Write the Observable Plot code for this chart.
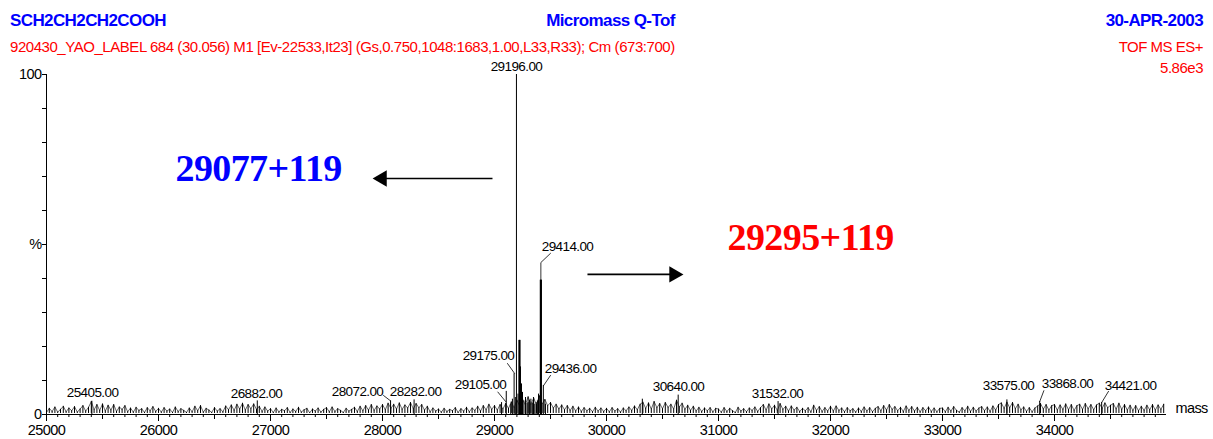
<!DOCTYPE html>
<html>
<head>
<meta charset="utf-8">
<script src="https://cdn.jsdelivr.net/npm/d3@7"></script>
<script src="https://cdn.jsdelivr.net/npm/@observablehq/plot@0.6"></script>
<style>
html, body { margin: 0; padding: 0; background: #fff; }
#wrap { position: relative; width: 1213px; height: 439px; overflow: hidden; font-family: "Liberation Sans", Arial, sans-serif; }
#chart { position: absolute; left: 0; top: 0; }
#leftblock { position: absolute; left: 10px; top: 12px; display: inline-block; white-space: nowrap; }
#line1 { display: flex; justify-content: space-between; font-weight: bold; font-size: 17px; line-height: 17px; letter-spacing: -0.6px; color: #0000ff; }
#line2 { margin-top: 9.5px; font-size: 15px; line-height: 15px; letter-spacing: -0.45px; color: #ff0000; }
#rightblock { position: absolute; right: 10px; top: 12px; text-align: right; white-space: nowrap; }
#r1 { font-weight: bold; font-size: 17px; line-height: 17px; letter-spacing: -0.6px; color: #0000ff; }
#r2 { margin-top: 9.5px; font-size: 15px; line-height: 15px; letter-spacing: -0.5px; color: #ff0000; }
#r3 { margin-top: 6px; font-size: 15px; line-height: 15px; letter-spacing: -0.5px; color: #ff0000; }
</style>
</head>
<body>
<div id="wrap">
  <div id="chart"></div>
  <div id="leftblock">
    <div id="line1"><span>SCH2CH2CH2COOH</span><span>Micromass Q-Tof</span></div>
    <div id="line2">920430_YAO_LABEL 684 (30.056) M1 [Ev-22533,It23] (Gs,0.750,1048:1683,1.00,L33,R33); Cm (673:700)</div>
  </div>
  <div id="rightblock">
    <div id="r1">30-APR-2003</div>
    <div id="r2">TOF MS ES+</div>
    <div id="r3">5.86e3</div>
  </div>
</div>
<script>
// ---- Baseline noise profile (% intensity), one array per 1000-Da segment, 25 Da apart ----
const segmentStarts = [25000, 26000, 27000, 28000, 29000, 30000, 31000, 32000, 33000, 34000];
const noiseStep = 25;
const n25 = [0.6,1.8,0.9,2.2,0.7,1.5,2.4,0.8,1.9,1.1,
             2.3,0.7,1.6,2.6,1.0,2.1,3.8,1.4,2.9,1.2,
             3.1,1.0,2.7,1.3,2.9,0.9,2.2,1.5,2.6,0.8,
             1.9,0.7,2.1,1.2,1.7,0.6,2.0,1.1,2.3,0.9];
const n26 = [1.8,0.7,2.0,1.0,1.6,0.6,2.2,0.9,1.7,1.2,
             0.6,1.9,0.8,2.4,1.1,2.6,0.7,1.8,1.3,0.6,
             2.0,1.0,1.7,0.8,2.5,1.4,2.8,1.2,3.0,1.6,
             3.3,1.3,2.9,1.7,3.1,1.5,2.4,0.9,2.2,1.0];
const n27 = [1.7,0.6,1.9,0.8,1.5,1.1,2.0,0.6,1.6,0.9,
             2.1,0.7,1.4,1.8,0.5,1.6,1.0,1.9,0.7,1.5,
             2.0,0.8,2.2,0.9,1.7,1.2,0.6,1.8,1.0,1.5,
             2.1,0.9,2.4,1.1,2.6,1.3,2.9,1.2,2.5,1.6];
const n28 = [2.9,1.4,3.3,1.8,3.0,1.6,3.4,1.5,2.8,1.9,
             3.5,1.7,3.2,2.0,2.9,1.3,2.4,0.8,1.9,1.0,
             1.6,0.7,1.8,0.9,1.5,1.1,2.0,0.6,1.7,1.0,
             2.1,0.8,1.9,1.2,2.4,1.0,2.6,1.4,3.0,1.5];
const n29 = [2.6,1.3,2.9,1.6,3.2,1.8,3.7,2.0,4.2,2.5,
             4.6,2.8,5.2,3.0,4.8,2.9,5.5,3.1,4.4,2.6,
             3.5,1.9,3.0,1.6,2.8,1.4,2.6,1.2,2.4,1.0,
             2.2,0.9,2.0,1.1,1.8,0.8,2.1,1.0,1.9,0.9];
const n30 = [1.8,0.8,2.0,1.0,1.7,0.7,1.9,1.1,2.2,1.2,
             2.5,1.4,3.0,3.6,1.8,3.4,1.6,3.8,2.0,3.2,
             1.7,3.5,2.1,3.0,1.6,4.2,2.2,3.3,1.5,2.7,
             1.2,2.4,1.0,2.1,0.9,1.9,1.1,2.0,0.8,1.8];
const n31 = [1.6,0.7,2.0,0.9,1.8,1.1,0.6,2.1,1.0,1.7,
             0.8,1.9,1.2,2.2,0.9,2.0,2.9,1.3,3.1,1.6,
             2.7,1.2,3.2,1.5,2.4,1.0,2.5,1.3,2.1,0.9,
             1.8,1.1,2.0,0.8,2.7,1.2,2.3,0.9,2.0,1.0];
const n32 = [2.4,1.0,2.5,1.2,1.9,0.8,2.0,1.1,1.7,0.7,
             1.9,0.9,2.2,1.0,2.0,0.8,1.8,2.3,1.1,2.6,
             1.3,2.9,1.5,2.3,1.1,2.1,0.9,2.5,1.2,2.3,
             1.0,2.1,0.8,2.0,1.1,2.2,0.9,1.9,0.8,1.8];
const n33 = [1.9,0.8,2.1,1.0,2.3,1.2,0.7,2.0,1.1,2.4,
             0.9,2.1,1.0,1.9,2.3,1.1,2.2,0.9,2.5,1.3,
             2.9,3.4,1.8,3.6,2.0,3.5,1.7,3.0,1.4,2.2,
             0.9,2.0,0.8,1.9,2.5,3.2,1.6,2.9,1.3,2.6];
const n34 = [2.9,1.3,2.8,1.5,3.1,1.4,2.9,1.2,2.6,3.0,
             1.5,3.2,1.7,2.9,1.4,2.8,3.3,1.8,3.4,2.0,
             2.7,3.2,1.6,3.3,1.5,2.9,1.3,2.7,1.2,2.6,
             1.1,2.4,1.2,2.7,1.4,2.9,1.3,2.8,1.5,3.0];
const noiseSegments = [n25, n26, n27, n28, n29, n30, n31, n32, n33, n34];

// ---- Peaks (mass, % intensity) ----
const mainPeakMass = [29063, 29105, 29145, 29160, 29175, 29186, 29196, 29210, 29223, 29232, 29241, 29250, 29262, 29277, 29290, 29300, 29312, 29325, 29338, 29348, 29360, 29372, 29383, 29393, 29414, 29436, 29455];
const mainPeakPct  = [3.5,   6.8,   3.0,   4.5,   12.0,  5.0,   100,   6.0,   21.8,  14.0,  9.0,   6.5,   4.0,   5.0,   3.2,   3.5,   4.2,   4.5,   3.4,   5.0,   3.0,   3.5,   4.0,   6.0,   39.5,  8.5,   3.0];
const thickPeaks = [29223, 29414];
const smallPeakMass = [25405, 26882, 28072, 28282, 30320, 30640, 31532, 33575, 33868, 34421];
const smallPeakPct  = [3.9,   4.0,   4.0,   4.3,   4.5,   5.7,   3.8,   4.3,   3.8,   3.5];

// ---- Peak labels (text, anchor mass, baseline %) ----
const labelText = ["25405.00","26882.00","28072.00","28282.00","29105.00","29175.00","29196.00","29414.00","29436.00","30640.00","31532.00","33575.00","33868.00","34421.00"];
const labelMass = [25411, 26875, 27777, 28295, 28875, 28946, 29196, 29652, 29679, 30643, 31527, 33589, 34116, 34679];
const labelPct  = [5.1,   4.9,   5.4,   5.4,   7.5,   16.0,  101.0, 48.1,  12.2,  6.9,   4.9,   7.2,   7.8,   7.2];

// ---- Leader lines (label id, mass, %) ----
const leaderId   = ["29414","29414","29414","29175","29175","29436","29436","29105","29105","28072","28072","33868","33868","34421","34421"];
const leaderMass = [29500, 29414, 29414, 29116, 29179, 29500, 29438, 29030, 29100, 28009, 28072, 33905, 33868, 34482, 34421];
const leaderPct  = [47.4,  44.7,  39.5,  15.0,  12.1,  11.5,  8.5,   6.6,   3.8,   5.6,   4.0,   7.0,   3.8,   6.8,   3.5];

// ---- Big annotations ----
const noteText = ["29077+119", "29295+119"];
const noteColor = ["#0000ff", "#ff0000"];
const noteMass = [26152, 31081];
const notePct = [68.8, 48.5];
// arrows: line start, head centre, level, head rotation
const arrowFrom = [28982, 29830];
const arrowTo   = [27996, 30603];
const arrowPct  = [69.4, 41.2];
const arrowRotate = [-90, 90];

// ---- Axis ticks ----
const xTickValues = [25000, 26000, 27000, 28000, 29000, 30000, 31000, 32000, 33000, 34000];
const yLabelValues = [0, 50, 100];
const yLabelTexts = ["0", "%", "100"];

// ---- build tables ----
const noise = segmentStarts.flatMap((s, k) => noiseSegments[k].map((v, i) => ({mass: s + i * noiseStep, pct: v})))
  .sort((a, b) => a.mass - b.mass);
const peaks = mainPeakMass.map((m, i) => ({mass: m, pct: mainPeakPct[i]}))
  .concat(smallPeakMass.map((m, i) => ({mass: m, pct: smallPeakPct[i]})));
const labels = labelText.map((t, i) => ({text: t, mass: labelMass[i], pct: labelPct[i]}));
const leaders = leaderId.map((id, i) => ({id, mass: leaderMass[i], pct: leaderPct[i]}));
const notes = noteText.map((t, i) => ({text: t, color: noteColor[i], mass: noteMass[i], pct: notePct[i]}));
const arrows = arrowFrom.map((f, i) => ({from: f, to: arrowTo[i], pct: arrowPct[i], rotate: arrowRotate[i]}));

const chart = Plot.plot({
  width: 1213,
  height: 439,
  marginLeft: 46,
  marginRight: 47,
  marginTop: 74,
  marginBottom: 25,
  x: {domain: [25000, 35000]},
  y: {domain: [0, 100]},
  style: {fontFamily: '"Liberation Sans", Arial, sans-serif', fontSize: "14px", color: "black", background: "white", letterSpacing: "-0.6px", overflow: "visible"},
  marks: [
    // minor / medium / major x ticks
    Plot.axisX({ticks: d3.range(25000, 35000, 100), tickSize: 3, tickFormat: () => "", label: null}),
    Plot.axisX({ticks: d3.range(25000, 35000, 500), tickSize: 5, tickFormat: () => "", label: null}),
    Plot.axisX({ticks: xTickValues, tickSize: 7, tickPadding: 3, tickFormat: d => String(d), label: null, fontSize: 14.5}),
    Plot.axisY({ticks: 10, tickSize: 4, tickFormat: () => "", label: null}),
    Plot.axisY({ticks: yLabelValues, tickSize: 4, tickPadding: 1, tickFormat: d => yLabelTexts[yLabelValues.indexOf(d)], label: null, fontSize: 14.5}),
    Plot.ruleX([25000], {stroke: "black", strokeWidth: 1}),
    Plot.ruleY([0], {stroke: "black", strokeWidth: 1}),
    // spectrum: noise as sticks plus connecting profile
    Plot.ruleX(noise, {x: "mass", y1: 0.3, y2: "pct", stroke: "black", strokeWidth: 1}),
    Plot.line(noise, {x: "mass", y: "pct", stroke: "black", strokeWidth: 0.6}),
    Plot.ruleX(peaks, {x: "mass", y1: 0, y2: "pct", stroke: "black", strokeWidth: 1}),
    Plot.ruleX(peaks.filter(d => thickPeaks.includes(d.mass)), {x: "mass", y1: 0, y2: "pct", stroke: "black", strokeWidth: 2.2}),
    // leaders and labels
    Plot.line(leaders, {x: "mass", y: "pct", z: "id", stroke: "black", strokeWidth: 0.8}),
    Plot.text(labels, {x: "mass", y: "pct", text: "text", textAnchor: "middle", lineAnchor: "bottom", fontSize: 13.5, fill: "black"}),
    // arrows
    Plot.link(arrows, {x1: "from", x2: "to", y1: "pct", y2: "pct", stroke: "black", strokeWidth: 1.6}),
    Plot.dot(arrows, {x: "to", y: "pct", symbol: "triangle2", r: 7.8, fill: "black", stroke: null, rotate: "rotate"}),
    // big notes
    Plot.text(notes, {x: "mass", y: "pct", text: "text", fill: "color", textAnchor: "start", lineAnchor: "bottom",
      fontFamily: '"Liberation Serif", "Times New Roman", serif', fontWeight: "bold", fontSize: 38, letterSpacing: "-0.3px"}),
    // axis title
    Plot.text(["mass"], {frameAnchor: "bottom-right", text: d => d, textAnchor: "start", dx: 9, dy: -2, fontSize: 14.5, fill: "black"})
  ]
});
document.getElementById("chart").appendChild(chart);
</script>
</body>
</html>
